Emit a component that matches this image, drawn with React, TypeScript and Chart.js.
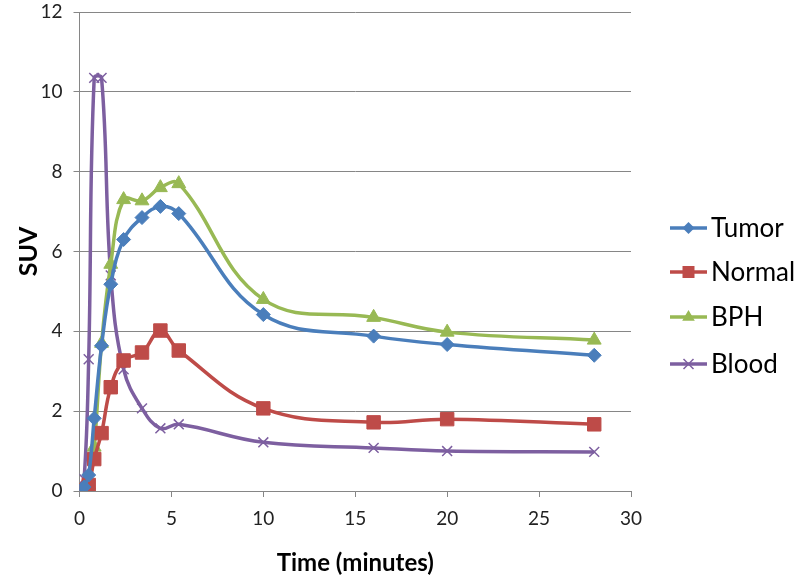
import React, { useEffect, useRef } from "react";
import { Chart, registerables } from "chart.js";

Chart.register(...registerables);

const times = [0, 0.25, 0.5, 0.8, 1.2, 1.7, 2.4, 3.4, 4.4, 5.4, 10, 16, 20, 28];
const tumor = [0, 0.1, 0.4, 1.82, 3.64, 5.18, 6.3, 6.85, 7.13, 6.95, 4.42, 3.88, 3.67, 3.4];
const normal = [0, 0.02, 0.15, 0.8, 1.45, 2.6, 3.27, 3.47, 4.02, 3.52, 2.07, 1.72, 1.8, 1.67];
const bph = [0, 0.05, 0.15, 1.1, 3.7, 5.68, 7.3, 7.27, 7.6, 7.7, 4.8, 4.35, 3.98, 3.78];
const blood = [0, 0.3, 3.3, 10.35, 10.35, 5.4, 3.05, 2.07, 1.57, 1.67, 1.22, 1.08, 1.0, 0.98];

const seriesNames = ["Tumor", "Normal", "BPH", "Blood"];
const seriesValues = [tumor, normal, bph, blood];
const colors = ["#4A7EBB", "#BE4B48", "#98B954", "#7D5FA0"];
const pointStyles = ["rectRot", "rect", "triangle", "crossRot"];
const pointRadii = [7, 9.5, 8, 7];

const FONT = "Lato, 'Open Sans', sans-serif";

const legendPlugin = {
  id: "customLegend",
  afterDraw(chart: any) {
    const ctx = chart.ctx;
    const x0 = 670;
    const ys = [228, 272, 317, 364];
    ctx.save();
    seriesNames.forEach((name, i) => {
      const y = ys[i];
      ctx.strokeStyle = colors[i];
      ctx.lineWidth = 3.5;
      ctx.beginPath();
      ctx.moveTo(x0, y);
      ctx.lineTo(x0 + 37, y);
      ctx.stroke();
      const style = pointStyles[i];
      ctx.fillStyle = colors[i];
      ctx.strokeStyle = colors[i];
      ctx.lineWidth = 1.5;
      const cx = x0 + 18.5;
      ctx.beginPath();
      if (style === "rectRot") {
        const r = 6;
        ctx.moveTo(cx, y - r); ctx.lineTo(cx + r, y); ctx.lineTo(cx, y + r); ctx.lineTo(cx - r, y); ctx.closePath(); ctx.fill();
      } else if (style === "rect") {
        const h = 6;
        ctx.rect(cx - h, y - h, h * 2, h * 2); ctx.fill();
      } else if (style === "triangle") {
        const r = 7;
        ctx.moveTo(cx, y - r); ctx.lineTo(cx + r * 0.9, y + r * 0.55); ctx.lineTo(cx - r * 0.9, y + r * 0.55); ctx.closePath(); ctx.fill();
      } else {
        const d = 5;
        ctx.moveTo(cx - d, y - d); ctx.lineTo(cx + d, y + d);
        ctx.moveTo(cx + d, y - d); ctx.lineTo(cx - d, y + d); ctx.stroke();
      }
      ctx.fillStyle = "#000";
      ctx.font = `26px ${FONT}`;
      ctx.textBaseline = "middle";
      ctx.textAlign = "left";
      ctx.fillText(name, x0 + 41, y + 1);
    });
    ctx.restore();
  },
};

export default function App() {
  const ref = useRef<HTMLCanvasElement | null>(null);
  useEffect(() => {
    document.body.style.margin = "0";
    const canvas = ref.current!;
    const datasets = seriesNames.map((name, i) => ({
      label: name,
      data: times.map((t, j) => ({ x: t, y: seriesValues[i][j] })),
      borderColor: colors[i],
      backgroundColor: colors[i],
      borderWidth: 3.5,
      pointStyle: pointStyles[i],
      pointRadius: pointRadii[i],
      pointBorderWidth: i === 3 ? 1.5 : 1,
      pointBorderColor: colors[i],
      pointBackgroundColor: colors[i],
      tension: 0.4,
      fill: false,
    }));
    const chart = new Chart(canvas, {
      type: "line",
      data: { datasets },
      plugins: [legendPlugin],
      options: {
        animation: false,
        responsive: false,
        layout: { padding: { left: 0, right: 169, top: 12, bottom: 0 } },
        plugins: { legend: { display: false }, tooltip: { enabled: false } },
        scales: {
          x: {
            type: "linear",
            min: 0,
            max: 30,
            ticks: { stepSize: 5, color: "#222", font: { family: FONT, size: 19 }, padding: 10 },
            grid: { drawOnChartArea: false, drawTicks: true, tickLength: 6, color: "#868686" },
            border: { color: "#868686", width: 1 },
            title: { display: true, text: "Time (minutes)", color: "#000", font: { family: FONT, size: 24, weight: "bold" }, padding: { top: 16 } },
            afterFit: (s: any) => { s.height = 91; },
          },
          y: {
            min: 0,
            max: 12,
            ticks: { stepSize: 2, color: "#222", font: { family: FONT, size: 19 }, padding: 11 },
            grid: { color: "#868686", lineWidth: 1, drawTicks: true, tickLength: 6 },
            border: { color: "#868686", width: 1 },
            title: { display: true, text: "SUV", color: "#000", font: { family: FONT, size: 25, weight: "bold" }, padding: { top: 14, bottom: 0 } },
            afterFit: (s: any) => { s.width = 79.5; s.paddingTop = 0; s.paddingBottom = 0; },
          },
        },
      },
    } as any);
    return () => chart.destroy();
  }, []);
  return (
    <div style={{ width: 800, height: 582 }}>
      <canvas ref={ref} width={800} height={582} style={{ display: "block" }} />
    </div>
  );
}
